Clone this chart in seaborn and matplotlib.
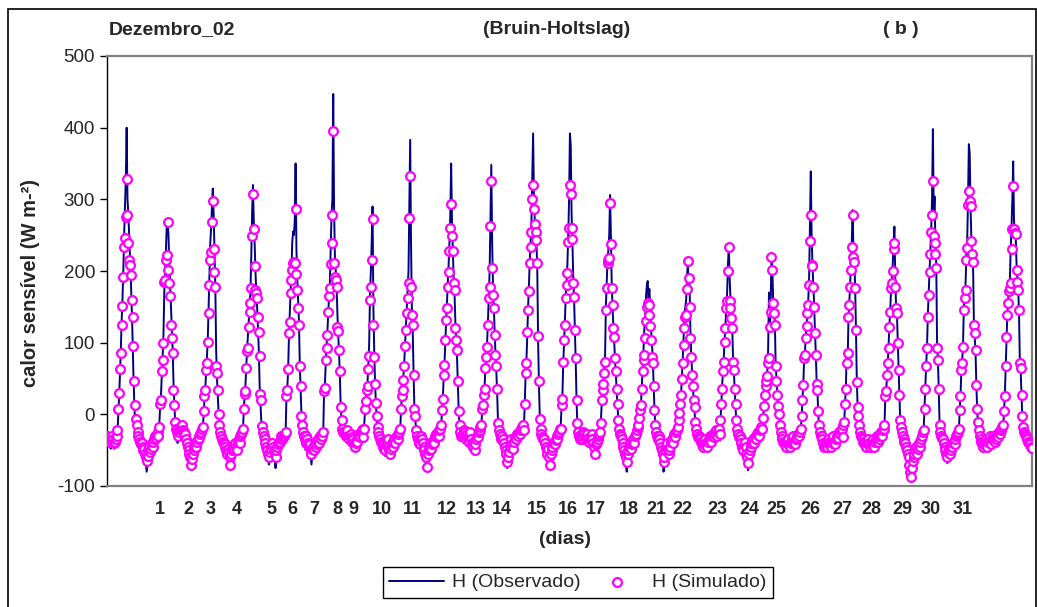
import numpy as np
import pandas as pd
import matplotlib
matplotlib.use("Agg")
import matplotlib.pyplot as plt
from matplotlib.patches import Rectangle
import seaborn as sns

# ---------------- data (half-hourly sensible heat flux, W m-2) ----------------
h_obs = [
    # pre-dawn
    -35, -38, -42, -45, -48, -40, -36, -42, -48, -45, -40, -35,
    # day 1
    -25, 0, 25, 55, 90, 130, 160, 200, 250, 290, 330, 400, 300, 280, 250, 220, 190, 150, 110, 60, 20, -10, -25, -35,
    -30, -35, -40, -45, -48, -45, -50, -55, -52, -60, -70, -80, -65, -55, -50, -58, -52, -45, -50, -42, -40, -35, -38, -32, -30,
    # day 2
    -30, -15, 10, 25, 55, 80, 110, 170, 200, 230, 265, 273, 250, 210, 180, 150, 120, 90, 45, 15, -10, -25, -35, -40,
    -30, -22, -22, -25, -20, -28, -30, -35, -33, -40, -45, -50, -55, -60, -65, -72, -68, -60, -55, -50, -45, -50, -42, -40, -35, -38, -32, -30, -25, -22,
    # day 3
    0, 20, 35, 60, 80, 105, 150, 200, 240, 260, 290, 315, 280, 230, 180, 90, 50, 25, 0, -20, -30, -35, -40, -45,
    -45, -48, -50, -55, -60, -52, -58, -65, -75, -60, -55, -50, -52, -48, -45, -50, -55, -42, -40, -45, -35, -32, -30, -25,
    # day 4
    5, 25, 40, 65, 90, 110, 130, 150, 170, 220, 280, 320, 270, 240, 200, 170, 150, 120, 90, 40, 15, -10, -25, -35,
    -35, -40, -45, -50, -55, -60, -70, -58, -50, -52, -45, -50, -55, -60, -75, -58, -50, -48, -45, -42, -40, -35, -38, -35, -32, -30, -28,
    # day 5
    20, 35, 60, 105, 140, 170, 200, 240, 255, 250, 270, 350, 230, 190, 160, 130, 70, 35, 0, -20, -30, -40, -45, -50,
    -35, -40, -48, -55, -50, -60, -70, -55, -50, -58, -45, -50, -45, -48, -40, -45, -35, -40, -32, -35, -28,
    # day 6
    30, 40, 70, 95, 115, 140, 165, 185, 230, 280, 300, 447, 290, 220, 200, 180, 140, 110, 85, 50, 10, -10, -20, -30,
    -28, -32, -35, -30, -28, -35, -40, -35, -32, -38, -45, -40, -45, -50, -45, -40, -42, -35, -32, -38, -30, -28, -25,
    # day 7
    -30, -15, 5, 20, 35, 45, 70, 100, 170, 200, 240, 290, 150, 90, 45, 15, -5, -20, -30, -35, -40, -45, -45, -50,
    -50, -55, -58, -48, -45, -40, -50, -55, -60, -52, -45, -50, -42, -40, -45, -38, -35, -40, -32, -30, -25,
    # day 8
    5, 25, 40, 55, 75, 100, 125, 150, 175, 200, 290, 383, 240, 150, 120, 60, 10, -5, -20, -30, -35, -40, -40, -45,
    -35, -40, -45, -50, -55, -60, -68, -80, -62, -55, -50, -45, -52, -48, -42, -40, -45, -35, -32, -38, -30, -35, -28, -25, -20,
    # day 9
    5, 20, 50, 70, 100, 130, 155, 185, 210, 240, 280, 350, 270, 230, 190, 170, 130, 100, 80, 40, 5, -15, -25, -35,
    -35, -32, -28, -30, -35, -40, -32, -38, -42, -35, -30, -40, -45, -50, -42, -55, -48, -40, -35, -38, -30, -28, -22, -20,
    # day 10
    5, 15, 30, 40, 65, 85, 100, 130, 165, 200, 270, 348, 240, 180, 150, 115, 85, 60, 30, -10, -25, -30, -35, -40,
    -35, -40, -45, -50, -55, -62, -75, -68, -58, -50, -45, -40, -48, -55, -42, -38, -35, -40, -32, -35, -30, -32, -28, -25, -22, -20,
    # day 11
    -20, 15, 55, 75, 110, 150, 180, 215, 240, 270, 330, 392, 300, 270, 255, 240, 200, 100, 40, -5, -25, -35, -40, -45,
    -40, -45, -50, -55, -60, -52, -65, -72, -60, -55, -50, -45, -42, -48, -40, -35, -40, -32, -30, -25,
    # day 12
    -15, 10, 25, 70, 100, 130, 165, 185, 210, 250, 300, 392, 375, 280, 240, 190, 160, 115, 70, 15, -15, -30, -35, -40,
    -35, -40, -35, -30, -32, -38, -40, -35, -32, -38, -42, -40, -35, -32, -40, -45, -50, -58, -48, -42, -40, -35, -32, -30,
    # day 13
    -10, 15, 30, 45, 60, 80, 150, 185, 215, 230, 250, 306, 250, 180, 150, 120, 100, 75, 55, 30, 10, -10, -25, -35,
    -35, -40, -45, -50, -55, -62, -72, -80, -62, -55, -50, -45, -52, -48, -42, -40, -45, -35, -32, -28, -22,
    # day 14
    -15, -5, 5, 15, 40, 65, 90, 120, 140, 165, 180, 186, 160, 175, 150, 120, 100, 80, 45, 10, -15, -25, -35, -40,
    -35, -40, -45, -50, -55, -62, -80, -70, -58, -50, -45, -52, -62, -55, -50, -42, -40, -45, -35, -32, -38, -30, -28, -22,
    # day 15
    -10, 0, 15, 30, 55, 80, 110, 140, 150, 160, 190, 213, 175, 187, 120, 85, 60, 40, 20, 5, -15, -25, -30, -35,
    -35, -38, -40, -42, -45, -50, -48, -42, -40, -45, -50, -42, -40, -35, -38, -42, -35, -32, -36, -30, -32, -28, -35, -30, -25,
    # day 16
    -25, -10, 15, 40, 60, 80, 105, 125, 150, 170, 210, 235, 190, 160, 140, 125, 80, 60, 35, 10, -10, -25, -35, -40,
    -35, -40, -45, -50, -55, -48, -42, -50, -60, -68, -78, -62, -55, -50, -45, -42, -40, -45, -38, -35, -40, -32, -30, -35, -28, -25, -22,
    # day 17
    -20, -5, 10, 25, 40, 50, 60, 90, 170, 120, 150, 220, 205, 160, 140, 130, 70, 50, 30, 10, 0, -15, -30, -35,
    -40, -42, -45, -48, -50, -45, -42, -40, -48, -52, -45, -42, -40, -35, -42, -48, -40, -35, -38, -32, -35, -30, -25,
    # day 18
    -5, 20, 40, 75, 85, 110, 125, 145, 160, 190, 260, 339, 250, 210, 180, 155, 115, 85, 45, 30, 0, -20, -30, -35,
    -35, -40, -45, -50, -48, -42, -52, -45, -40, -42, -48, -52, -45, -40, -35, -42, -48, -40, -35, -32, -38, -30, -32, -28, -25, -20,
    # day 19
    -30, -10, 15, 40, 90, 70, 130, 155, 180, 210, 240, 285, 230, 215, 180, 120, 50, 10, -5, -20, -30, -35, -38, -40,
    -42, -45, -48, -50, -45, -42, -40, -45, -50, -48, -42, -40, -45, -52, -42, -40, -35, -42, -40, -35, -32, -30, -35, -28, -25, -20,
    # day 20
    20, 30, 50, 70, 95, 125, 145, 175, 190, 210, 240, 262, 190, 150, 140, 100, 60, 25, -10, -20, -25, -30, -35, -40,
    -45, -50, -55, -60, -65, -72, -78, -80, -75, -68, -62, -58, -55, -50, -58, -52, -45, -50, -42, -40, -35, -30,
    # day 21
    -20, 10, 40, 70, 95, 140, 170, 200, 230, 260, 300, 398, 280, 304, 240, 210, 100, 75, 35, -15, -30, -35, -40, -45,
    -45, -50, -55, -62, -68, -58, -52, -50, -62, -55, -50, -45, -42, -48, -40, -35, -32, -30, -25,
    # day 22
    5, 25, 60, 75, 95, 150, 165, 180, 220, 240, 300, 377, 365, 290, 245, 225, 210, 130, 110, 85, 40, 5, -15, -25,
    -35, -40, -42, -45, -50, -48, -42, -40, -45, -52, -42, -40, -35, -42, -48, -40, -35, -38, -42, -40, -35, -32, -36, -30, -32, -28, -25, -22, -20,
    # day 23
    5, 25, 65, 105, 140, 160, 175, 185, 230, 260, 300, 353, 270, 255, 250, 210, 190, 175, 140, 70, 60, 25, -5, -20,
    -30, -33, -36, -40, -42, -45, -48, -50, -52, -55,
]

h_sim = [
    # pre-dawn
    -30, -32, -35, -38, -36, -33, -30, -35, -40, -38, -35, -30,
    # day 1
    -22, 7, 30, 63, 86, 125, 151, 192, 234, 246, 276, 328, 278, 239, 216, 209, 195, 160, 136, 95, 46, 13, -7, -15,
    -25, -30, -35, -38, -42, -40, -45, -50, -48, -55, -60, -65, -58, -50, -45, -52, -48, -40, -45, -38, -35, -30, -33, -28, -25,
    # day 2
    -30, -17, 15, 20, 60, 76, 100, 185, 187, 216, 222, 269, 201, 183, 165, 124, 107, 86, 34, 13, -10, -20, -25, -30,
    -25, -20, -18, -20, -15, -22, -25, -30, -28, -35, -40, -45, -50, -55, -60, -70, -62, -55, -50, -45, -40, -45, -38, -35, -30, -33, -28, -25, -20, -18,
    # day 3
    4, 25, 34, 62, 71, 101, 142, 180, 215, 227, 269, 298, 231, 198, 177, 67, 57, 34, 1, -15, -25, -30, -35, -38,
    -40, -42, -45, -50, -55, -48, -52, -60, -70, -55, -50, -45, -48, -42, -40, -45, -50, -38, -35, -40, -30, -28, -25, -20,
    # day 4
    8, 29, 32, 64, 88, 92, 122, 143, 155, 176, 249, 307, 259, 207, 174, 170, 162, 136, 115, 81, 29, 20, -16, -25,
    -30, -35, -40, -45, -50, -55, -60, -52, -45, -48, -40, -45, -50, -55, -60, -50, -45, -42, -40, -38, -35, -30, -35, -32, -30, -28, -25,
    # day 5
    25, 34, 63, 113, 129, 169, 188, 201, 211, 213, 211, 286, 196, 174, 148, 125, 67, 40, -3, -15, -25, -30, -35, -40,
    -30, -35, -40, -45, -42, -50, -55, -48, -45, -50, -40, -45, -38, -42, -35, -40, -30, -35, -28, -30, -25,
    # day 6
    32, 37, 76, 93, 111, 143, 165, 176, 210, 239, 278, 395, 211, 192, 188, 178, 122, 116, 90, 61, 10, -8, -20, -25,
    -25, -28, -30, -25, -22, -30, -35, -30, -28, -32, -38, -35, -40, -45, -40, -35, -38, -30, -28, -32, -25, -22, -20,
    # day 7
    -31, -20, 8, 18, 34, 39, 63, 81, 160, 178, 215, 272, 125, 80, 43, 16, -3, -17, -25, -30, -35, -38, -40, -42,
    -45, -48, -50, -42, -40, -35, -45, -50, -55, -48, -40, -45, -38, -35, -40, -32, -30, -35, -28, -25, -20,
    # day 8
    7, 25, 34, 48, 67, 95, 118, 141, 162, 183, 274, 333, 178, 138, 125, 55, 8, -3, -22, -30, -35, -38, -40, -42,
    -30, -35, -40, -45, -50, -55, -60, -73, -55, -50, -45, -40, -48, -42, -38, -35, -40, -30, -28, -32, -25, -30, -22, -20, -15,
    # day 9
    6, 22, 55, 69, 104, 132, 148, 178, 199, 228, 260, 293, 249, 228, 183, 174, 120, 104, 90, 46, 4, -15, -25, -30,
    -30, -28, -22, -25, -30, -35, -28, -32, -38, -30, -25, -35, -40, -45, -38, -50, -42, -35, -30, -32, -25, -22, -18, -15,
    # day 10
    8, 13, 27, 36, 64, 80, 94, 125, 162, 178, 263, 326, 204, 167, 148, 111, 83, 67, 36, -12, -22, -28, -32, -35,
    -30, -35, -40, -45, -50, -55, -66, -60, -52, -45, -40, -35, -42, -48, -38, -33, -30, -35, -28, -30, -25, -28, -22, -20, -18, -15,
    # day 11
    -22, 15, 57, 71, 115, 146, 172, 211, 234, 255, 301, 320, 286, 266, 255, 243, 211, 110, 46, -6, -20, -28, -32, -35,
    -35, -40, -45, -50, -55, -48, -60, -70, -55, -50, -45, -40, -38, -42, -36, -30, -35, -28, -25, -20,
    # day 12
    -20, 13, 22, 73, 104, 125, 162, 180, 197, 240, 260, 320, 308, 260, 244, 183, 164, 118, 78, 20, -12, -25, -30, -35,
    -30, -35, -30, -25, -28, -32, -35, -30, -28, -33, -38, -35, -30, -28, -35, -40, -45, -55, -42, -38, -35, -30, -28, -25,
    # day 13
    -12, 20, 34, 43, 57, 73, 146, 176, 211, 216, 218, 295, 237, 176, 153, 120, 108, 78, 60, 36, 15, -8, -20, -28,
    -30, -35, -40, -45, -50, -55, -60, -67, -55, -50, -45, -40, -48, -42, -38, -35, -40, -30, -28, -22, -18,
    # day 14
    -15, -5, 6, 13, 35, 60, 76, 83, 106, 130, 150, 155, 153, 138, 123, 104, 80, 71, 40, 6, -15, -25, -30, -35,
    -30, -35, -40, -45, -50, -55, -67, -60, -50, -45, -40, -48, -55, -50, -45, -38, -35, -40, -30, -28, -32, -25, -22, -18,
    # day 15
    -8, 2, 15, 27, 50, 71, 97, 120, 136, 138, 175, 214, 190, 150, 106, 80, 55, 39, 20, 10, -10, -20, -28, -32,
    -30, -32, -35, -38, -40, -45, -42, -38, -35, -40, -45, -38, -35, -30, -33, -38, -30, -28, -32, -25, -28, -22, -30, -25, -20,
    # day 16
    -27, -8, 15, 36, 60, 73, 101, 120, 148, 158, 200, 234, 158, 148, 134, 120, 73, 62, 36, 15, -8, -20, -28, -32,
    -30, -35, -40, -45, -50, -42, -38, -45, -55, -60, -68, -55, -50, -45, -40, -38, -35, -40, -32, -30, -35, -28, -25, -30, -22, -20, -18,
    # day 17
    -20, -5, 11, 27, 39, 46, 53, 71, 78, 122, 143, 219, 201, 155, 141, 125, 67, 46, 27, 11, 1, -15, -25, -30,
    -35, -38, -40, -42, -45, -40, -38, -35, -42, -45, -40, -38, -35, -30, -38, -42, -35, -30, -33, -28, -30, -25, -20,
    # day 18
    -3, 20, 41, 78, 83, 106, 123, 141, 153, 181, 242, 278, 209, 207, 178, 150, 113, 83, 43, 34, 5, -15, -25, -30,
    -30, -35, -40, -45, -42, -38, -45, -40, -35, -38, -42, -45, -40, -35, -30, -38, -42, -35, -30, -28, -33, -25, -28, -22, -20, -15,
    # day 19
    -31, -10, 15, 36, 71, 85, 136, 152, 178, 201, 234, 278, 219, 213, 176, 118, 45, 10, -3, -15, -25, -30, -33, -35,
    -38, -40, -42, -45, -40, -38, -35, -40, -45, -42, -38, -35, -40, -45, -38, -35, -30, -38, -35, -30, -28, -25, -30, -22, -20, -15,
    # day 20
    25, 32, 55, 71, 92, 122, 143, 176, 183, 200, 230, 239, 178, 148, 141, 100, 62, 27, -8, -17, -25, -30, -35, -38,
    -40, -45, -50, -55, -60, -70, -80, -88, -75, -65, -60, -55, -50, -45, -55, -48, -40, -45, -38, -35, -30, -25,
    # day 21
    -22, 8, 36, 67, 92, 136, 167, 199, 224, 255, 278, 326, 249, 239, 224, 204, 92, 76, 36, -15, -25, -30, -33, -35,
    -40, -45, -50, -55, -60, -52, -48, -45, -55, -50, -45, -40, -38, -42, -35, -30, -28, -25, -20,
    # day 22
    6, 25, 62, 71, 94, 146, 162, 174, 216, 232, 292, 311, 297, 290, 242, 224, 213, 125, 113, 90, 41, 8, -10, -22,
    -30, -35, -38, -40, -45, -42, -38, -35, -40, -45, -38, -35, -30, -38, -42, -35, -30, -33, -38, -35, -30, -28, -32, -25, -28, -22, -20, -18, -15,
    # day 23
    4, 25, 68, 108, 138, 155, 172, 176, 183, 230, 258, 319, 258, 253, 251, 202, 185, 174, 146, 71, 64, 27, -3, -17,
    -25, -28, -30, -33, -35, -38, -40, -42, -45, -47,
]

day_labels = ["1", "2", "3", "4", "5", "6", "7", "8", "9", "10", "11", "12", "13",
              "14", "15", "16", "17", "18", "21", "22", "23", "24", "25", "26",
              "27", "28", "29", "30", "31"]
day_label_pos = [63, 97, 123, 155, 196, 221, 247, 275, 294, 328, 365, 406, 440,
                 472, 514, 551, 584, 624, 656, 688, 729, 768, 800, 840,
                 879, 914, 951, 984, 1023]

y_ticks = [-100, 0, 100, 200, 300, 400, 500]

# ---------------- figure ----------------
sns.set_theme(style="white")
plt.rcParams['font.family'] = ['Liberation Sans', 'DejaVu Sans']

W, H = 1037, 607
fig = plt.figure(figsize=(W / 100, H / 100), dpi=100)
fig.patch.set_facecolor("white")
ax = fig.add_axes([107 / W, (H - 486) / H, 925 / W, 430 / H])

df_obs = pd.DataFrame({"i": np.arange(len(h_obs)), "H": h_obs})
df_sim = pd.DataFrame({"i": np.arange(len(h_sim)), "H": h_sim})

sns.lineplot(data=df_obs, x="i", y="H", ax=ax, color="#000080", lw=1.4,
             errorbar=None, label="H (Observado)", zorder=2)
sns.scatterplot(data=df_sim, x="i", y="H", ax=ax, marker="o", s=40,
                color="white", edgecolor="#FF00FF", linewidth=1.6,
                label="H (Simulado)", zorder=3)

n = max(len(h_obs), len(h_sim))
ax.set_xlim(-0.5, n - 0.5)
ax.set_ylim(-100, 500)
ax.set_xlabel("")
ax.set_ylabel("")

ax.set_yticks(y_ticks)
ax.set_yticklabels([str(v) for v in y_ticks], fontsize=13.5)
ax.tick_params(axis="y", direction="out", length=5, width=1, color="black",
               pad=3.5, left=True)
ax.set_xticks(day_label_pos)
ax.set_xticklabels(day_labels, fontsize=13, fontweight="bold")
ax.tick_params(axis="x", length=0, pad=11)
ax.grid(False)

for side in ["top", "right", "bottom"]:
    ax.spines[side].set_color("#808080")
    ax.spines[side].set_linewidth(1.6)
ax.spines["left"].set_color("black")
ax.spines["left"].set_linewidth(1.0)

# texts
fig.text(109 / W, 1 - 30 / H, "Dezembro_02", fontsize=14, fontweight="bold",
         ha="left", va="center")
fig.text(557 / W, 1 - 30 / H, "(Bruin-Holtslag)", fontsize=14, fontweight="bold",
         ha="center", va="center")
fig.text(901 / W, 1 - 30 / H, "( b )", fontsize=14, fontweight="bold",
         ha="center", va="center")
fig.text(31 / W, 1 - 283 / H, "calor sensível (W m-²)", fontsize=14.5,
         fontweight="bold", rotation=90, ha="center", va="center")
fig.text(565 / W, 1 - 540 / H, "(dias)", fontsize=14, fontweight="bold",
         ha="center", va="center")

# legend
handles, labels = ax.get_legend_handles_labels()
if ax.get_legend() is not None:
    ax.get_legend().remove()
leg = fig.legend(handles, labels, loc="center",
                 bbox_to_anchor=(578 / W, 1 - 582.5 / H), ncol=2,
                 fontsize=14, frameon=True, fancybox=False, shadow=False,
                 edgecolor="black", framealpha=1, handlelength=2.8,
                 handletextpad=0.4, columnspacing=0.5, borderpad=0.35,
                 borderaxespad=0)
leg.get_frame().set_linewidth(1.0)

# outer chart border
fig.add_artist(Rectangle((8 / W, -0.02), (1036 - 8) / W, 1 - 9 / H + 0.02,
                         transform=fig.transFigure, fill=False,
                         edgecolor="black", linewidth=1.2, clip_on=False))

fig.savefig("out.png", dpi=100, facecolor="white")
